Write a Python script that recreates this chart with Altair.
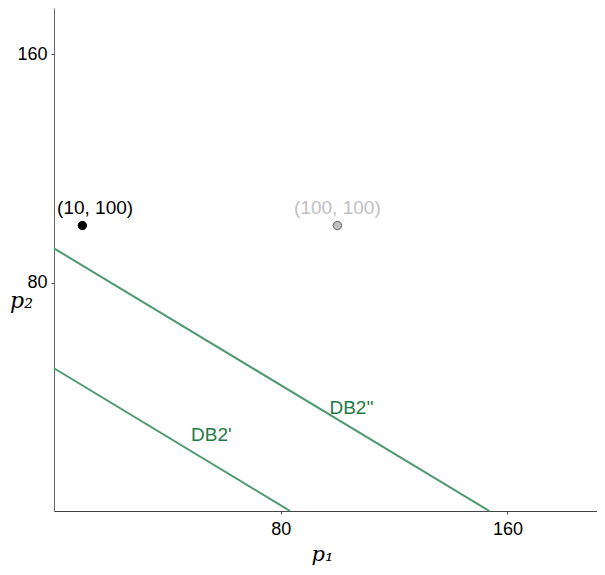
import altair as alt
import pandas as pd

# Data
line_names = ["DB2'", "DB2''"]
line_y_intercepts = [50, 92]
line_x_intercepts = [83.3, 153.6]

point_labels = ["(10, 100)", "(100, 100)"]
point_x = [10, 100]
point_y = [100, 100]
point_fill = ["#000000", "#c0c0c0"]
point_stroke = ["#000000", "#606060"]
label_color = ["#000000", "#c0c0c0"]
label_x = [14.5, 100]
label_y = [106, 106]

line_label_text = ["DB2'", "DB2''"]
line_label_x = [55.5, 105]
line_label_y = [26.5, 36]

x_ticks = [80, 160]
y_ticks = [80, 160]

X_MAX = 191.6
Y_MAX = 176.2

rows = []
for n, yi, xi in zip(line_names, line_y_intercepts, line_x_intercepts):
    rows.append({"name": n, "p1": 0, "p2": yi, "order": 0})
    rows.append({"name": n, "p1": xi, "p2": 0, "order": 1})
lines_df = pd.DataFrame(rows)

pts_df = pd.DataFrame({"label": point_labels, "x": point_x, "y": point_y,
                       "fill": point_fill, "stroke": point_stroke,
                       "lc": label_color, "lx": label_x, "ly": label_y})
ll_df = pd.DataFrame({"t": line_label_text, "x": line_label_x, "y": line_label_y})

xs = alt.Scale(domain=[0, X_MAX], nice=False, zero=False)
ys = alt.Scale(domain=[0, Y_MAX], nice=False, zero=False)

x_axis = alt.Axis(values=x_ticks, title="p\u2081", grid=False, domainColor="#444",
                  tickColor="#444", tickSize=3, labelFontSize=18, labelFont="Liberation Sans",
                  labelColor="#000", labelPadding=6,
                  titleFont="DejaVu Serif", titleFontStyle="italic", titleFontWeight="normal",
                  titleFontSize=21, titleColor="#000", titleX=268, titleY=43,
                  titleAlign="center", titleBaseline="middle")
y_axis = alt.Axis(values=y_ticks, title="p\u2082", grid=False, domainColor="#666",
                  tickColor="#444", tickSize=3, labelFontSize=18, labelFont="Liberation Sans",
                  labelColor="#000", labelPadding=4,
                  titleFont="DejaVu Serif", titleFontStyle="italic", titleFontWeight="normal",
                  titleFontSize=22, titleColor="#000", titleAngle=0, titleX=-33, titleY=292,
                  titleAlign="center", titleBaseline="middle")

lines = alt.Chart(lines_df).mark_line(color="#4e9a6f", strokeWidth=2).encode(
    x=alt.X("p1:Q", scale=xs, axis=x_axis),
    y=alt.Y("p2:Q", scale=ys, axis=y_axis),
    detail="name:N",
    order="order:Q",
)

points = alt.Chart(pts_df).mark_point(filled=True, size=70, opacity=1, strokeWidth=1).encode(
    x=alt.X("x:Q", scale=xs),
    y=alt.Y("y:Q", scale=ys),
    fill=alt.Fill("fill:N", scale=None),
    stroke=alt.Stroke("stroke:N", scale=None),
)

plabels = alt.Chart(pts_df).mark_text(fontSize=19, font="Liberation Sans", baseline="middle",
                                      align="center").encode(
    x=alt.X("lx:Q", scale=xs),
    y=alt.Y("ly:Q", scale=ys),
    text="label:N",
    color=alt.Color("lc:N", scale=None),
)

llabels = alt.Chart(ll_df).mark_text(fontSize=19, font="Liberation Sans", baseline="middle",
                                     align="center", color="#1f7a45").encode(
    x=alt.X("x:Q", scale=xs),
    y=alt.Y("y:Q", scale=ys),
    text="t:N",
)

chart = alt.layer(lines, points, plabels, llabels).properties(
    width=543, height=503,
    autosize=alt.AutoSizeParams(type="none"),
    padding={"left": 46, "top": 0, "right": 0, "bottom": 56},
).configure_view(stroke=None).configure_axis(domainWidth=1)

chart.save("out.html", embed_options={"renderer": "svg", "actions": False})
